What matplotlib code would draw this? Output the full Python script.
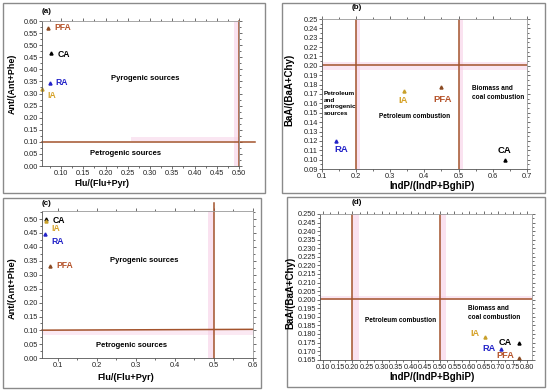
import matplotlib
matplotlib.use('Agg')
import matplotlib.pyplot as plt
from matplotlib.patches import Rectangle
from matplotlib.ticker import MultipleLocator, AutoMinorLocator

plt.rcParams['font.family'] = ['Liberation Sans', 'DejaVu Sans']

# sample order: PFA, CA, RA, IA
names = ['PFA', 'CA', 'RA', 'IA']

a_x = [0.070, 0.077, 0.074, 0.058]
a_y = [0.572, 0.466, 0.345, 0.317]

b_x = [0.448, 0.635, 0.142, 0.341]
b_y = [0.177, 0.100, 0.120, 0.173]

c_x = [0.079, 0.0695, 0.066, 0.068]
c_y = [0.331, 0.499, 0.445, 0.493]

d_x = [0.770, 0.770, 0.710, 0.656]
d_y = [0.1658, 0.1746, 0.1710, 0.1784]

txt_col = {'PFA': '#b5532a', 'CA': 'black', 'RA': '#2323c8', 'IA': '#d6a32a'}
mk_col = {'PFA': '#8b4a22', 'CA': 'black', 'RA': '#2323c8', 'IA': '#c8a02a'}
line_col = '#a3532c'
pink = '#f7cfe6'

fig = plt.figure(figsize=(5.5, 3.9), dpi=100)
W, H = 550.0, 390.0


def px_axes(x0, x1, ytop, ybot):
    return fig.add_axes([x0 / W, 1 - ybot / H, (x1 - x0) / W, (ybot - ytop) / H])


def frame(x0, x1, ytop, ybot):
    fig.add_artist(Rectangle((x0 / W, 1 - ybot / H), (x1 - x0) / W, (ybot - ytop) / H,
                             transform=fig.transFigure, fill=False,
                             edgecolor='#8a8a8a', lw=1.0))


def labels(xl, xpos, yl, ypos, size=7.0):
    fig.text(xpos[0] / W, 1 - xpos[1] / H, xl, ha='center', va='center',
             fontsize=size, fontweight='bold')
    fig.text(ypos[0] / W, 1 - ypos[1] / H, yl, ha='center', va='center',
             fontsize=size, fontweight='bold', rotation=90)


def style(ax, xmaj, ymaj, tsize=5.3):
    ax.xaxis.set_major_locator(MultipleLocator(xmaj))
    ax.yaxis.set_major_locator(MultipleLocator(ymaj))
    ax.xaxis.set_minor_locator(AutoMinorLocator(2))
    ax.yaxis.set_minor_locator(AutoMinorLocator(2))
    ax.tick_params(which='both', direction='out', top=True, right=True,
                   labelsize=tsize, pad=0.8, width=0.5, color='#333333')
    ax.tick_params(which='major', length=2.0)
    ax.tick_params(which='minor', length=1.1)
    for s in ax.spines.values():
        s.set_linewidth(0.6)
        s.set_color('#555555')
    ax.spines['top'].set_color('#999999')
    ax.spines['right'].set_color('#999999')
    for lab in ax.get_xticklabels() + ax.get_yticklabels():
        lab.set_color('#222222')


def points(ax, xs, ys, offs, ha_list, size=6.2):
    for n, x, y, o, ha in zip(names, xs, ys, offs, ha_list):
        ax.plot(x, y, marker='^', ms=2.2, color=mk_col[n], ls='none', clip_on=False)
        ax.annotate(n, (x, y), xytext=o, textcoords='offset points', ha=ha,
                    va='center', fontsize=size, fontweight='bold', color=txt_col[n])


# ---------- (a)
frame(3, 265, 3, 193)
ax = px_axes(42, 239, 21, 166)
ax.set_xlim(0.057, 0.50)
ax.set_ylim(0, 0.60)
style(ax, 0.05, 0.05)
ax.xaxis.set_major_formatter(lambda v, p: '%.2f' % v)
ax.set_xticks([0.10, 0.15, 0.20, 0.25, 0.30, 0.35, 0.40, 0.45, 0.50])
ax.axvspan(0.488, 0.502, color=pink, alpha=0.6, lw=0)
ax.axhspan(0.105, 0.118, xmin=0.45, xmax=1.0, color=pink, alpha=0.5, lw=0)
ax.plot([0.057, 0.536], [0.10, 0.10], color=line_col, lw=1.1, clip_on=False)
ax.plot([0.50, 0.50], [0, 0.60], color=line_col, lw=1.1, clip_on=False)
points(ax, a_x, a_y, [(4.5, 0), (4.5, -1), (4, 0), (3.5, -4.5)], ['left'] * 4)
ax.text(0.289, 0.36, 'Pyrogenic sources', fontsize=5.5, fontweight='bold', ha='center', va='center')
ax.text(0.244, 0.05, 'Petrogenic sources', fontsize=5.5, fontweight='bold', ha='center', va='center')
ax.text(0.0, 1.04, '(a)', transform=ax.transAxes, fontsize=5.8, fontweight='bold', va='bottom')
labels('Flu/(Flu+Pyr)', (102, 183.5), 'Ant/(Ant+Phe)', (12, 84), size=6.4)

# ---------- (b)
frame(282, 545, 3, 193)
ax = px_axes(321.7, 527, 19, 169)
ax.set_xlim(0.1, 0.7)
ax.set_ylim(0.09, 0.25)
style(ax, 0.1, 0.01)
ax.xaxis.set_major_formatter(lambda v, p: '%g' % round(v, 2))
ax.yaxis.set_major_formatter(lambda v, p: '%.2f' % v)
ax.axvspan(0.2, 0.212, color=pink, alpha=0.6, lw=0)
ax.axvspan(0.5, 0.514, color=pink, alpha=0.6, lw=0)
ax.axhspan(0.196, 0.2045, color=pink, alpha=0.5, lw=0)
ax.axvline(0.2, color=line_col, lw=1.1)
ax.axvline(0.5, color=line_col, lw=1.1)
ax.axhline(0.201, color=line_col, lw=1.1)
points(ax, b_x, b_y, [(1.5, -8.5), (0, 6.5), (4, -6.5), (-1, -7)], ['center'] * 4, size=6.8)
ax.text(0.105, 0.1735, 'Petroleum\nand\npetrogenic\nsources', fontsize=4.6, fontweight='bold',
        ha='left', va='top', linespacing=1.45)
ax.text(0.37, 0.146, 'Petroleum combustion', fontsize=4.7, fontweight='bold', ha='center', va='center')
ax.text(0.538, 0.1715, 'Biomass and\ncoal combustion', fontsize=4.7, fontweight='bold',
        ha='left', va='center', linespacing=1.4)
ax.text(0.17, 1.055, '(b)', transform=ax.transAxes, fontsize=5.8, fontweight='bold', ha='center', va='bottom')
labels('IndP/(IndP+BghiP)', (432, 186), 'BaA/(BaA+Chy)', (289, 90), size=7.0)

# ---------- (c)
frame(3, 261, 198, 388)
ax = px_axes(42, 253, 211, 358.3)
ax.set_xlim(0.059, 0.6)
ax.set_ylim(0, 0.529)
style(ax, 0.1, 0.05)
ax.xaxis.set_major_formatter(lambda v, p: '%g' % round(v, 2))
ax.yaxis.set_major_formatter(lambda v, p: '%.2f' % v)
ax.axvspan(0.485, 0.5, color=pink, alpha=0.6, lw=0)
ax.axhspan(0.085, 0.1, color=pink, alpha=0.45, lw=0)
ax.plot([0.059, 0.6], [0.101, 0.104], color=line_col, lw=1.1, clip_on=False)
ax.plot([0.50, 0.50], [0, 0.558], color=line_col, lw=1.1, clip_on=False)
points(ax, c_x, c_y, [(4.5, 0.5), (4.5, -1), (4.5, -5), (4.5, -5.5)], ['left'] * 4)
ax.text(0.32, 0.353, 'Pyrogenic sources', fontsize=5.5, fontweight='bold', ha='center', va='center')
ax.text(0.288, 0.045, 'Petrogenic sources', fontsize=5.5, fontweight='bold', ha='center', va='center')
ax.text(0.0, 1.03, '(c)', transform=ax.transAxes, fontsize=5.8, fontweight='bold', va='bottom')
labels('Flu/(Flu+Pyr)', (126, 378), 'Ant/(Ant+Phe)', (12, 288), size=6.6)

# ---------- (d)
frame(287, 545, 197, 387)
ax = px_axes(320, 532, 214, 359.7)
ax.set_xlim(0.089, 0.816)
ax.set_ylim(0.165, 0.250)
style(ax, 0.05, 0.005, tsize=5.3)
ax.xaxis.set_major_formatter(lambda v, p: '%.2f' % v)
ax.yaxis.set_major_formatter(lambda v, p: '%.3f' % v)
ax.set_xticks([0.10, 0.15, 0.20, 0.25, 0.30, 0.35, 0.40, 0.45, 0.50, 0.55, 0.60, 0.65, 0.70, 0.75, 0.80])
ax.axvspan(0.2, 0.222, color=pink, alpha=0.6, lw=0)
ax.axvspan(0.5, 0.52, color=pink, alpha=0.6, lw=0)
ax.axhspan(0.1997, 0.2022, color=pink, alpha=0.5, lw=0)
ax.axvline(0.2, color=line_col, lw=1.1)
ax.axvline(0.5, color=line_col, lw=1.1)
ax.axhline(0.2003, color=line_col, lw=1.1)
points(ax, d_x, d_y, [(-3, 2), (-5, 0.5), (-4, 0.5), (-4.5, 2)], ['right'] * 4, size=6.6)
ax.text(0.364, 0.1876, 'Petroleum combustion', fontsize=4.7, fontweight='bold', ha='center', va='center')
ax.text(0.598, 0.1922, 'Biomass and\ncoal combustion', fontsize=4.7, fontweight='bold',
        ha='left', va='center', linespacing=1.4)
ax.text(0.173, 1.055, '(d)', transform=ax.transAxes, fontsize=5.8, fontweight='bold', ha='center', va='bottom')
labels('IndP/(IndP+BghiP)', (432, 377.5), 'BaA/(BaA+Chy)', (290, 293), size=7.0)

fig.savefig('out.png', dpi=100)
